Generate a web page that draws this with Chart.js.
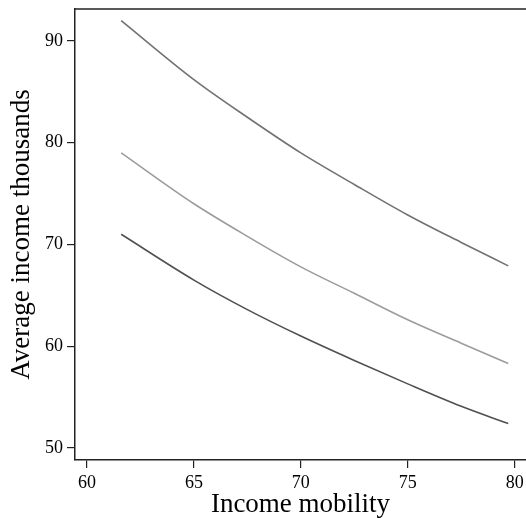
<!DOCTYPE html>
<html>
<head>
<meta charset="utf-8">
<script src="https://cdn.jsdelivr.net/npm/chart.js@4.4.1/dist/chart.umd.min.js"></script>
<style>
    html, body { margin: 0; padding: 0; background: #ffffff; }
    #wrap { width: 526px; height: 518px; position: relative; }
</style>
</head>
<body>
<div id="wrap"><canvas id="incomeChart"></canvas></div>
<script>
// values
const mobility = [61.6, 65, 67.5, 70, 72.5, 75, 77.5, 79.7];
const incomeHigh = [92.0, 86.2, 82.5, 79.0, 75.9, 72.9, 70.2, 67.9];
const incomeMid = [79.0, 74.0, 70.8, 67.8, 65.2, 62.6, 60.3, 58.3];
const incomeLow = [71.0, 66.5, 63.6, 61.0, 58.6, 56.3, 54.1, 52.4];
const xTicks = [60, 65, 70, 75, 80];
const yTicks = [50, 60, 70, 80, 90];

const serif = '"Liberation Serif", "Times New Roman", serif';

function toPoints(ys) {
    return mobility.map((x, i) => ({ x: x, y: ys[i] }));
}

// drop the extra room chart.js keeps for end labels
function noEdgePadding(scale) {
    scale.paddingTop = 0;
    scale.paddingBottom = 0;
    scale.paddingLeft = 0;
    scale.paddingRight = 0;
}

// top frame line (plot has left, bottom and top edges)
const topBorder = {
    id: 'topBorder',
    afterDraw(chart) {
        const a = chart.chartArea;
        const ctx = chart.ctx;
        ctx.save();
        ctx.strokeStyle = '#222222';
        ctx.lineWidth = 1.5;
        ctx.beginPath();
        ctx.moveTo(a.left, a.top);
        ctx.lineTo(chart.width, a.top);
        ctx.stroke();
        ctx.restore();
    }
};

function lineSet(ys, color) {
    return {
        data: toPoints(ys),
        showLine: true,
        borderColor: color,
        borderWidth: 1.6,
        pointRadius: 0,
        cubicInterpolationMode: 'monotone',
        fill: false
    };
}

new Chart(document.getElementById('incomeChart'), {
    type: 'scatter',
    data: {
        datasets: [
            lineSet(incomeHigh, '#727272'),
            lineSet(incomeMid, '#9c9c9c'),
            lineSet(incomeLow, '#505050')
        ]
    },
    options: {
        responsive: true,
        maintainAspectRatio: false,
        animation: false,
        layout: { autoPadding: false, padding: { top: 9, right: 0, left: 0, bottom: 0 } },
        plugins: {
            legend: { display: false },
            tooltip: { enabled: false }
        },
        scales: {
            x: {
                type: 'linear',
                min: 59.44,
                max: 80.53,
                afterBuildTicks(scale) { scale.ticks = xTicks.map(v => ({ value: v })); },
                afterFit(scale) { scale.height = 58; noEdgePadding(scale); },
                border: { display: true, color: '#222222', width: 1.5 },
                grid: { display: true, drawOnChartArea: false, drawTicks: true, tickLength: 8, color: '#222222', lineWidth: 1.2 },
                ticks: { color: '#000000', padding: 4, maxRotation: 0, font: { family: serif, size: 18 } },
                title: {
                    display: true,
                    text: 'Income mobility',
                    color: '#000000',
                    padding: { top: 0, bottom: -3 },
                    font: { family: serif, size: 27 }
                }
            },
            y: {
                type: 'linear',
                min: 48.82,
                max: 93.14,
                afterBuildTicks(scale) { scale.ticks = yTicks.map(v => ({ value: v })); },
                afterFit(scale) { scale.width = 75; noEdgePadding(scale); },
                border: { display: true, color: '#222222', width: 1.5 },
                grid: { display: true, drawOnChartArea: false, drawTicks: true, tickLength: 8, color: '#222222', lineWidth: 1.2 },
                ticks: { color: '#000000', padding: 4, font: { family: serif, size: 18 } },
                title: {
                    display: true,
                    text: 'Average income thousands',
                    color: '#000000',
                    padding: { top: 6, bottom: 0 },
                    font: { family: serif, size: 27 }
                }
            }
        }
    },
    plugins: [topBorder]
});
</script>
</body>
</html>
